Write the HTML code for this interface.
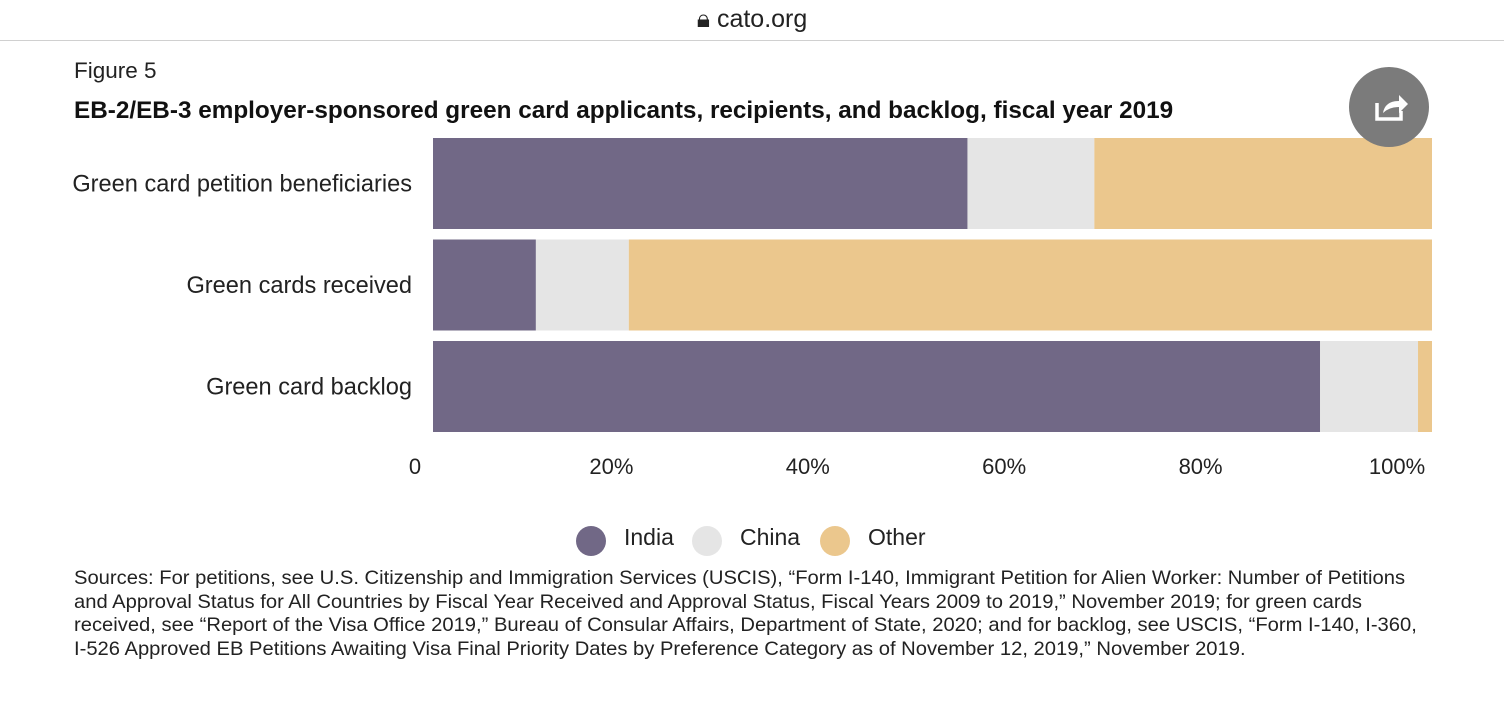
<!DOCTYPE html>
<html><head><meta charset="utf-8"><style>
body{margin:0;width:1504px;height:704px;background:#fff;font-family:"Liberation Sans",sans-serif;position:relative;overflow:hidden}
.abs{position:absolute}
</style></head><body>
<div class="abs" style="left:0;top:0;width:1504px;height:40px;border-bottom:1px solid #d0d0d0;background:#fff">
<div class="abs" style="left:0;width:1504px;top:5px;text-align:center;font-size:25px;color:#222">&#128274;&#xFE0E; cato.org</div></div>
<div class="abs" style="left:74px;top:58px;font-size:22.5px;color:#222">Figure 5</div>
<div class="abs" style="left:74px;top:97px;font-size:24.3px;font-weight:bold;color:#111;white-space:nowrap">EB-2/EB-3 employer-sponsored green card applicants, recipients, and backlog, fiscal year 2019</div>
<svg class="abs" style="left:0;top:0" width="1504" height="704" id="chart"></svg>
<div class="abs" style="left:1349px;top:67px;width:80px;height:80px;border-radius:50%;background:#7b7b7b;z-index:2">
<svg width="80" height="80"><path d="M28 36 v16 h24 v-8" fill="none" stroke="#fff" stroke-width="3.5"/><path d="M34 46 q2-12 16-12 v-6 l9 9 -9 9 v-6 q-10 0 -16 6z" fill="#fff"/></svg></div>
<div class="abs" style="left:74px;top:567px;font-size:19.5px;line-height:23.7px;color:#222;white-space:nowrap;transform:scaleX(1.035);transform-origin:0 0">Sources: For petitions, see U.S. Citizenship and Immigration Services (USCIS), “Form I-140, Immigrant Petition for Alien Worker: Number of Petitions<br>and Approval Status for All Countries by Fiscal Year Received and Approval Status, Fiscal Years 2009 to 2019,” November 2019; for green cards<br>received, see “Report of the Visa Office 2019,” Bureau of Consular Affairs, Department of State, 2020; and for backlog, see USCIS, “Form I-140, I-360,<br>I-526 Approved EB Petitions Awaiting Visa Final Priority Dates by Preference Category as of November 12, 2019,” November 2019.</div>
<script>
const categories=["Green card petition beneficiaries","Green cards received","Green card backlog"];
const india=[53.5,10.3,88.8];
const china=[12.7,9.3,9.8];
const other=[33.8,80.4,1.4];
const ticks=[0,20,40,60,80,100];
const tickLabels=["0","20%","40%","60%","80%","100%"];
const seriesNames=["India","China","Other"];
const colors=["#716886","#e5e5e5","#ebc78d"];
const NS="http://www.w3.org/2000/svg";
const svg=document.getElementById('chart');
const x0=433,x1=1432;
const xs=v=>x0+(x1-x0)*v/100;
const xt=v=>415+v*9.82;
const rowTop=i=>138+i*101.5, rowH=91;
function mk(t,a){const e=document.createElementNS(NS,t);for(const k in a)e.setAttribute(k,a[k]);svg.appendChild(e);return e;}
const series=[india,china,other];
categories.forEach((c,i)=>{
 let acc=0;
 series.forEach((s,j)=>{
  const r=mk('rect',{x:xs(acc),y:rowTop(i),width:xs(acc+s[i])-xs(acc),height:rowH,fill:colors[j]});
  
  
  acc+=s[i];
 });
 const t=mk('text',{x:412,y:rowTop(i)+rowH/2+8,'text-anchor':'end','font-size':23.6,fill:'#222','font-family':'Liberation Sans, sans-serif'});
 t.textContent=c;
 
 
});
ticks.forEach((v,i)=>{
 const t=mk('text',{x:xt(v),y:474,'text-anchor':'middle','font-size':22,fill:'#222','font-family':'Liberation Sans, sans-serif'});
 t.textContent=tickLabels[i];
 
 
});
const lx=[591,707,835];
seriesNames.forEach((n,j)=>{
 const c=mk('circle',{cx:lx[j],cy:541,r:15,fill:colors[j]});
 
 
 const t=mk('text',{x:lx[j]+33,y:545,'font-size':23,fill:'#222','font-family':'Liberation Sans, sans-serif'});
 t.textContent=n;
 
 
});
</script>
</body></html>
